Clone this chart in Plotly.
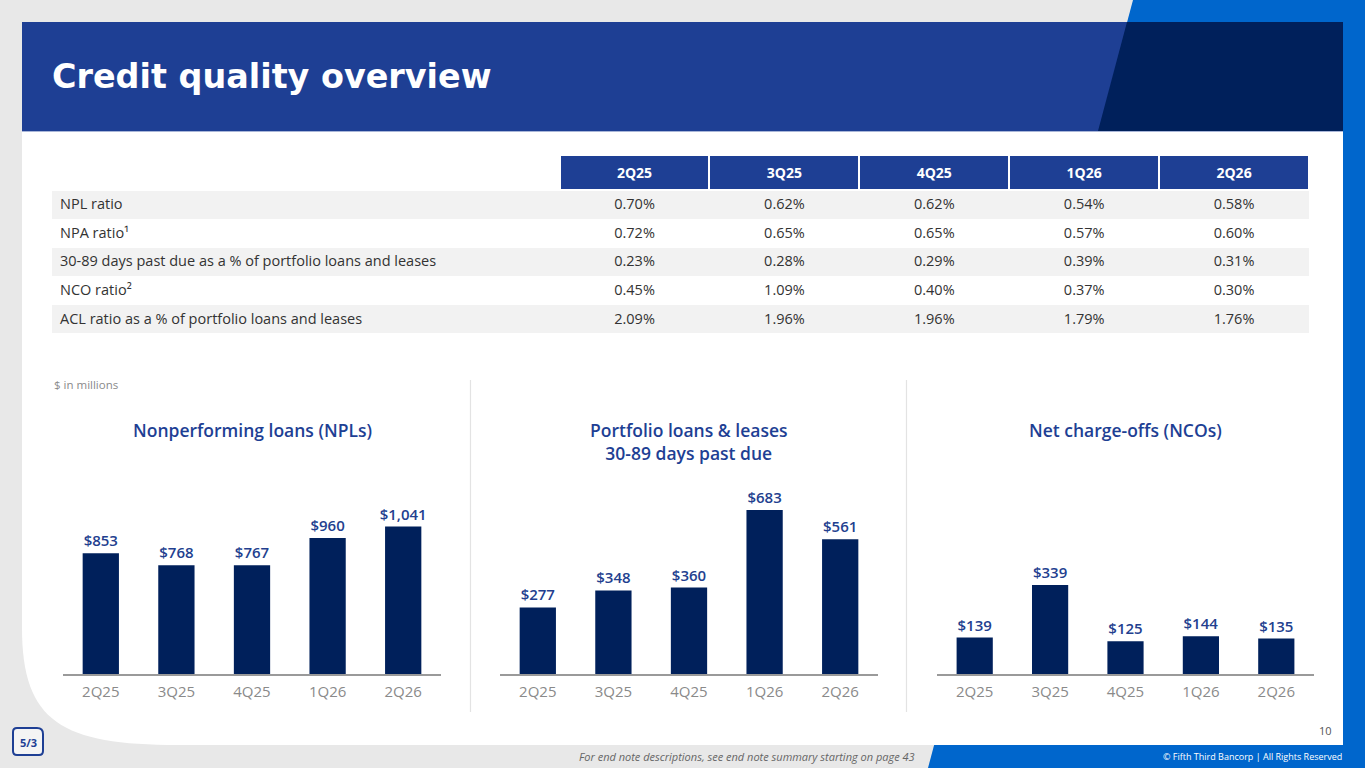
import plotly.graph_objects as go

W, H = 1365, 768

# ---------------- data ----------------
quarters = ["2Q25", "3Q25", "4Q25", "1Q26", "2Q26"]
npl_values = [853, 768, 767, 960, 1041]
past_due_values = [277, 348, 360, 683, 561]
nco_values = [139, 339, 125, 144, 135]

table_row_labels = [
    "NPL ratio",
    "NPA ratio¹",
    "30-89 days past due as a % of portfolio loans and leases",
    "NCO ratio²",
    "ACL ratio as a % of portfolio loans and leases",
]
npl_ratio = ["0.70%", "0.62%", "0.62%", "0.54%", "0.58%"]
npa_ratio = ["0.72%", "0.65%", "0.65%", "0.57%", "0.60%"]
past_due_ratio = ["0.23%", "0.28%", "0.29%", "0.39%", "0.31%"]
nco_ratio = ["0.45%", "1.09%", "0.40%", "0.37%", "0.30%"]
acl_ratio = ["2.09%", "1.96%", "1.96%", "1.79%", "1.76%"]

chart_titles = [
    "Nonperforming loans (NPLs)",
    "Portfolio loans &amp; leases<br>30-89 days past due",
    "Net charge-offs (NCOs)",
]

# ---------------- styles ----------------
BG = "#e8e8e8"
BRIGHT = "#0066cc"
HEADER = "#1e3f94"
NAVY = "#00205b"
BAR = "#00205b"
LABEL = "#233f8f"
FONT = "Open Sans"


def px(x):
    return x / W


def py(y):
    return 1 - y / H


def path(points, close=True):
    s = "M " + " L ".join(f"{px(x):.5f},{py(y):.5f}" for x, y in points)
    return s + (" Z" if close else "")


fig = go.Figure()

# ---------------- table ----------------
rows = [npl_ratio, npa_ratio, past_due_ratio, nco_ratio, acl_ratio]
columns = [table_row_labels] + [[r[i] for r in rows] for i in range(len(quarters))]
row_fill = ["#f2f2f2" if i % 2 == 0 else "#ffffff" for i in range(len(rows))]

fig.add_trace(go.Table(
    domain=dict(x=[px(52), px(1309)], y=[py(334), py(155)]),
    columnwidth=[508, 150, 150, 150, 150, 150],
    header=dict(
        values=[" "] + [f"<b>{q}</b>" for q in quarters],
        fill_color=["#ffffff"] + [HEADER] * len(quarters),
        line=dict(color="#ffffff", width=2),
        font=dict(family=FONT, size=14, color="#ffffff"),
        align="center",
        height=28,
    ),
    cells=dict(
        values=columns,
        fill_color=[row_fill] * (len(quarters) + 1),
        line=dict(color=[row_fill] * (len(quarters) + 1), width=0),
        font=dict(family=FONT, size=14.5, color="#333333"),
        align=["left"] + ["center"] * len(quarters),
        height=28.8,
    ),
))

# ---------------- bar charts ----------------
series = [npl_values, past_due_values, nco_values]
x_domains = [(63, 441), (500, 878), (937, 1314)]
y_ranges = [1440, 849, 777]
plot_top, plot_bottom = 470, 674

for i, vals in enumerate(series):
    n = i + 1
    xa = "x" if n == 1 else f"x{n}"
    ya = "y" if n == 1 else f"y{n}"
    fig.add_trace(go.Bar(
        x=quarters, y=vals, xaxis=xa, yaxis=ya,
        marker=dict(color=BAR, line=dict(width=0)),
        texttemplate="$%{y:,}", textposition="outside", constraintext="none",
        textfont=dict(family=FONT, size=15, color=LABEL, weight=600),
        cliponaxis=False, hoverinfo="skip", showlegend=False,
    ))
    d0, d1 = x_domains[i]
    fig.layout[f"xaxis{'' if n == 1 else n}"] = dict(
        domain=[px(d0), px(d1)], anchor=ya, type="category",
        showline=True, linecolor="#9a9a9a", linewidth=1.5,
        showgrid=False, zeroline=False, ticks="",
        ticklabelstandoff=3,
        tickfont=dict(family=FONT, size=15, color="#8a8a8a"),
        fixedrange=True,
    )
    fig.layout[f"yaxis{'' if n == 1 else n}"] = dict(
        domain=[py(plot_bottom), py(plot_top)], anchor=xa,
        range=[0, y_ranges[i]], visible=False, showgrid=False,
        zeroline=False, fixedrange=True,
    )
    fig.add_annotation(
        xref=f"{xa} domain", yref="paper", x=0.5,
        y=py(441 if i == 1 else 430), yanchor="middle", xanchor="center",
        text=chart_titles[i], showarrow=False, align="center",
        font=dict(family=FONT, size=17.5, color=HEADER, weight=600),
    )

fig.update_layout(bargap=0.52)

# ---------------- decorative shapes ----------------
shapes = []
shapes.append(dict(type="path", path=path([(1133, 0), (1365, 0), (1365, 768), (928, 768)]),
                   fillcolor=BRIGHT, line=dict(width=0), layer="below", xref="paper", yref="paper"))
panel = (f"M {px(22)},{py(22)} L {px(1343)},{py(22)} L {px(1343)},{py(745)} L {px(178)},{py(745)} "
         f"C {px(62)},{py(745)} {px(22)},{py(722)} {px(22)},{py(628)} Z")
shapes.append(dict(type="path", path=panel, fillcolor="#ffffff", line=dict(width=0),
                   layer="below", xref="paper", yref="paper"))
shapes.append(dict(type="rect", x0=px(22), x1=px(1343), y0=py(131), y1=py(22),
                   fillcolor=HEADER, line=dict(width=0), layer="below", xref="paper", yref="paper"))
shapes.append(dict(type="path", path=path([(1127, 22), (1343, 22), (1343, 131), (1098, 131)]),
                   fillcolor=NAVY, line=dict(width=0), layer="below", xref="paper", yref="paper"))
shapes.append(dict(type="line", x0=px(22), x1=px(1343), y0=py(131.5), y1=py(131.5),
                   line=dict(color="#a9b6d8", width=1), layer="below", xref="paper", yref="paper"))
for xd in (470.5, 906.5):
    shapes.append(dict(type="line", x0=px(xd), x1=px(xd), y0=py(380), y1=py(712),
                       line=dict(color="#e3e3e3", width=1.2), layer="below", xref="paper", yref="paper"))
logo = (f"M {px(17)},{py(728)} L {px(37)},{py(728)} Q {px(43)},{py(728)} {px(43)},{py(734)} "
        f"L {px(43)},{py(751)} Q {px(43)},{py(755)} {px(39)},{py(755)} L {px(17)},{py(755)} "
        f"Q {px(13)},{py(755)} {px(13)},{py(751)} L {px(13)},{py(732)} Q {px(13)},{py(728)} {px(17)},{py(728)} Z")
shapes.append(dict(type="path", path=logo, fillcolor="#f4f4f4", line=dict(color=HEADER, width=2),
                   layer="below", xref="paper", yref="paper"))
fig.update_layout(shapes=shapes)


# ---------------- texts ----------------
def note(text, x, y, size, color, xanchor="left", weight=400, style="normal", family=FONT):
    fig.add_annotation(xref="paper", yref="paper", x=px(x), y=py(y), text=text,
                       showarrow=False, xanchor=xanchor, yanchor="middle",
                       font=dict(family=family, size=size, color=color, weight=weight, style=style))


note("Credit quality overview", 50, 76, 33.4, "#ffffff", weight=700, family="DejaVu Sans")
note("$ in millions", 52, 384, 11.5, "#8a8a8a")
note("10", 1334, 730, 11, "#555555", xanchor="right")
note("For end note descriptions, see end note summary starting on page 43", 917, 756, 11, "#666666",
     xanchor="right", style="italic")
note("© Fifth Third Bancorp | All Rights Reserved", 1344, 756, 9, "#ffffff", xanchor="right")
note("<b>5/3</b>", 28, 742, 11, HEADER, xanchor="center", weight=800)

fig.update_layout(
    width=W, height=H,
    margin=dict(l=0, r=0, t=0, b=0),
    paper_bgcolor=BG, plot_bgcolor="rgba(0,0,0,0)",
    showlegend=False,
    font=dict(family=FONT),
)

fig.write_html(
    "out.html",
    config={"displayModeBar": False},
    post_script="document.body.style.margin='0';document.body.style.overflow='hidden';",
)
